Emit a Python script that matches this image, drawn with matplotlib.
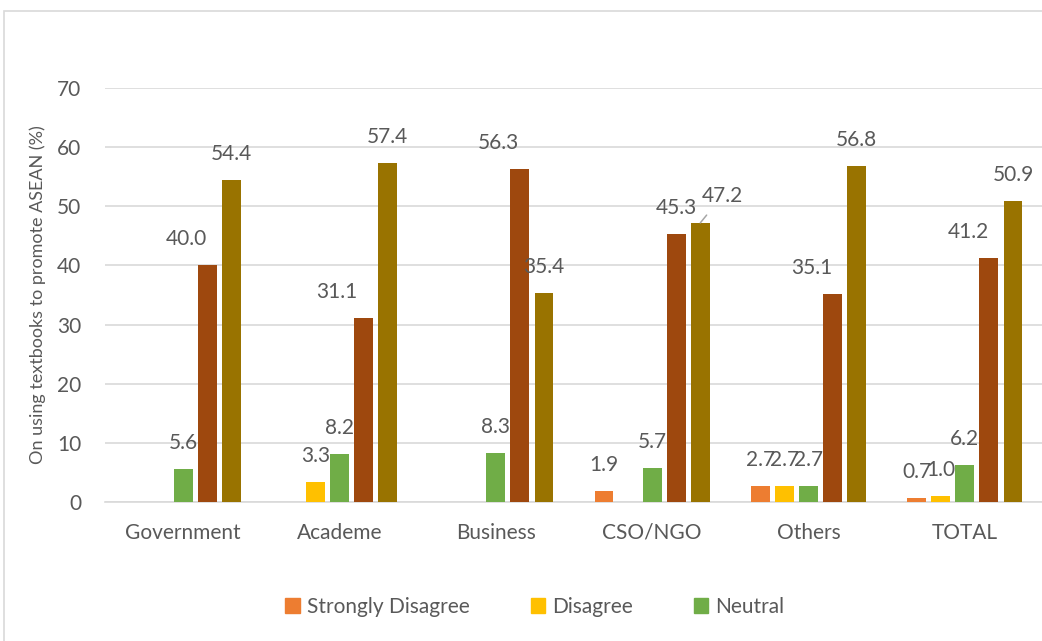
import matplotlib.pyplot as plt
from matplotlib.patches import Rectangle, Patch

plt.rcParams['font.family'] = ['Lato', 'DejaVu Sans']

categories = ["Government", "Academe", "Business", "CSO/NGO", "Others", "TOTAL"]
series = ["Strongly Disagree", "Disagree", "Neutral", "Agree", "Strongly Agree"]
strongly_disagree = [0, 0, 0, 1.9, 2.7, 0.7]
disagree = [0, 3.3, 0, 0, 2.7, 1.0]
neutral = [5.6, 8.2, 8.3, 5.7, 2.7, 6.2]
agree = [40.0, 31.1, 56.3, 45.3, 35.1, 41.2]
strongly_agree = [54.4, 57.4, 35.4, 47.2, 56.8, 50.9]
values = [strongly_disagree, disagree, neutral, agree, strongly_agree]
colors = ["#ED7D31", "#FFC000", "#70AD47", "#9E480E", "#997300"]

# horizontal nudges (pixels) Excel applied to some labels
label_dx = {(0, 3): -21, (1, 3): -27, (2, 3): -21, (4, 3): -21, (5, 3): -21}
text_col = "#595959"
fs = 15

fig = plt.figure(figsize=(10.42, 6.41), dpi=100)
ax = fig.add_axes([105 / 1042, 139 / 641, 938 / 1042, 414 / 641])

# outer chart border
fig.patches.append(Rectangle((3.5 / 1042, -0.05), 1.1, 1 - 10.5 / 641 + 0.05,
                             transform=fig.transFigure, fill=False,
                             edgecolor="#D9D9D9", linewidth=1.2))

step = 0.154
width = 0.121
for j, vals in enumerate(values):
    xs = [i + (j - 2) * step for i in range(len(categories))]
    ax.bar(xs, vals, width=width, color=colors[j], zorder=3)
    for i, v in enumerate(vals):
        if v == 0:
            continue
        if (i, j) == (3, 4):
            # label moved off with a leader line
            ax.annotate(f"{v:.1f}", xy=(xs[i], v), xytext=(22 * 0.72, 27 * 0.72),
                        textcoords="offset points", ha="center", va="center",
                        fontsize=fs, color=text_col,
                        arrowprops=dict(arrowstyle="-", color="#A6A6A6", lw=1.1,
                                        shrinkA=6, shrinkB=0))
            continue
        dx = label_dx.get((i, j), 0)
        ax.annotate(f"{v:.1f}", xy=(xs[i], v), xytext=(dx * 0.72, 26 * 0.72),
                    textcoords="offset points", ha="center", va="center",
                    fontsize=fs, color=text_col)

ax.set_xlim(-0.5, len(categories) - 0.5)
ax.set_ylim(0, 70)
ax.set_yticks(range(0, 71, 10))
ax.set_xticks(range(len(categories)))
ax.set_xticklabels(categories)
ax.tick_params(axis="both", length=0, labelsize=fs, colors=text_col)
ax.tick_params(axis="y", pad=17)
ax.tick_params(axis="x", pad=15)
ax.grid(axis="y", color="#D9D9D9", linewidth=1.2, zorder=0)
for s in ["top", "right", "left"]:
    ax.spines[s].set_visible(False)
ax.spines["bottom"].set_color("#D9D9D9")
ax.spines["bottom"].set_linewidth(1.2)
ax.set_ylabel("On using textbooks to promote ASEAN (%)", fontsize=13, color=text_col,
              labelpad=8)

handles = [Patch(color=colors[k], label=series[k]) for k in range(3)]
fig.legend(handles=handles, loc="center", bbox_to_anchor=(535 / 1042, 34 / 641),
           ncol=3, frameon=False, fontsize=fs, handlelength=0.7, handleheight=0.7,
           handletextpad=0.35, columnspacing=2.9, labelcolor=text_col)

fig.savefig("out.png", dpi=100)
